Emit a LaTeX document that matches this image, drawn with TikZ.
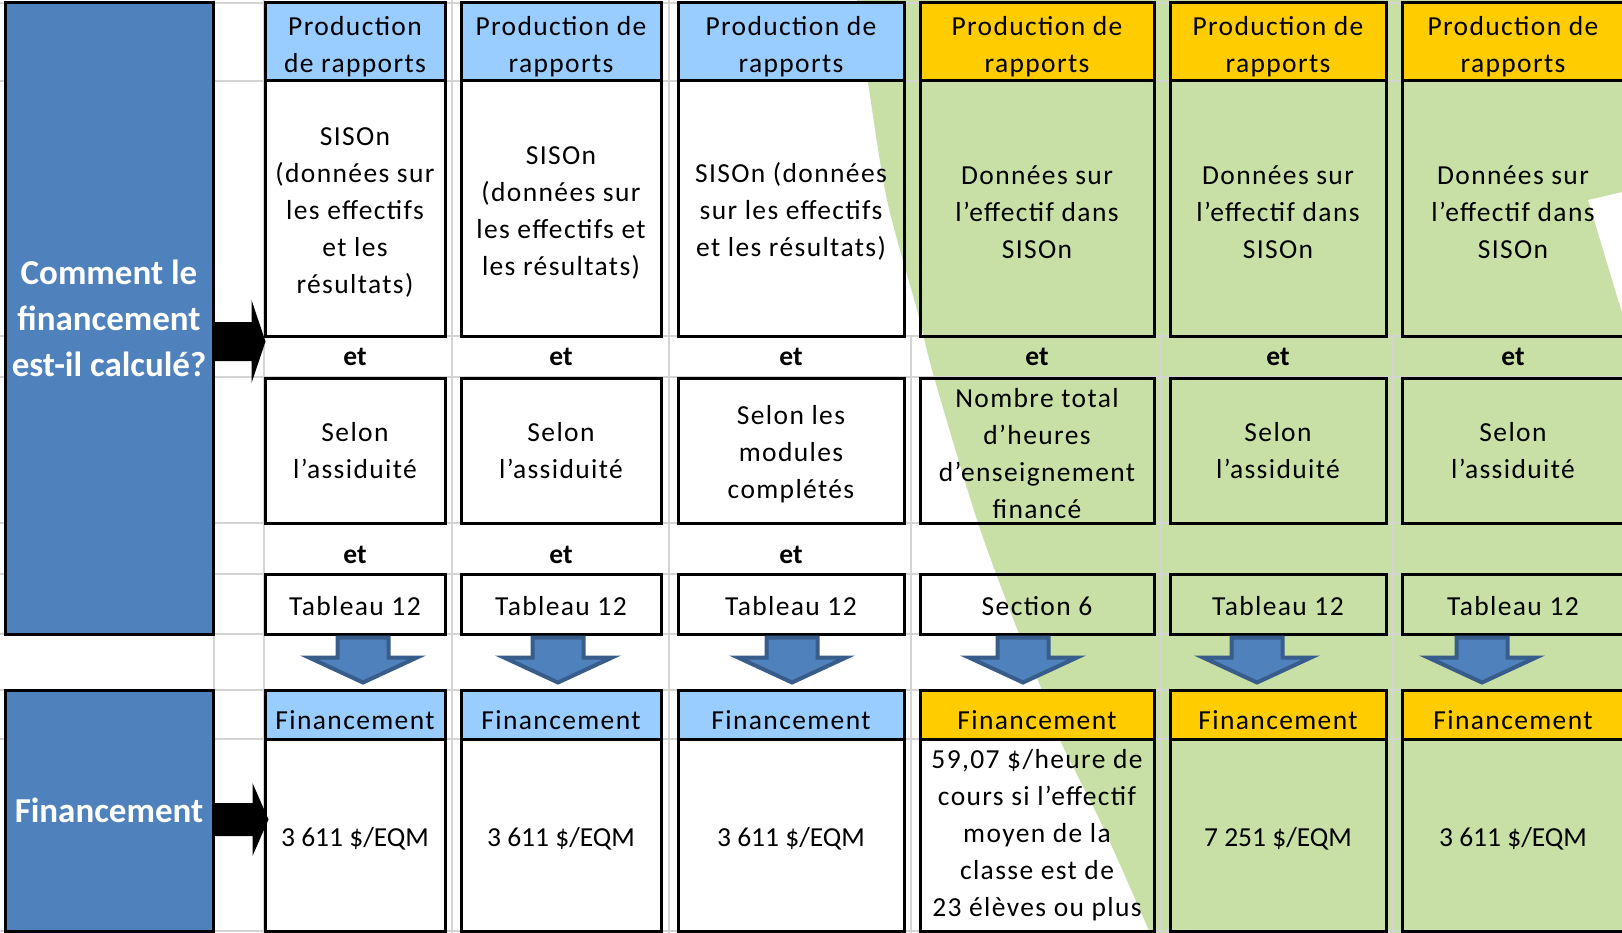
\documentclass[tikz,border=0pt]{standalone}
\usepackage{fontspec}
\setmainfont{Carlito}
\newfontfamily\spaced{Carlito}[LetterSpace=5]
\usetikzlibrary{calc}

\definecolor{sideblue}{RGB}{79,129,189}
\definecolor{arrowblue}{RGB}{56,93,138}
\definecolor{headblue}{RGB}{153,204,255}
\definecolor{headgold}{RGB}{255,204,0}
\definecolor{leafgreen}{RGB}{200,224,166}
\definecolor{gridgray}{RGB}{212,212,212}

\newcommand\up[1][26pt]{\rule{0pt}{#1}}

\tikzset{
  cell/.style={draw=black, line width=3pt, inner sep=0pt, align=center,
    font=\spaced\fontsize{27.5}{37}\selectfont},
  drop/.style={execute at begin node={\rule{0pt}{#1}}},
  plaintext/.style={font=\fontsize{27.5}{37}\selectfont},
  side/.style={cell, fill=sideblue, text=white, minimum width=208pt,
    font=\bfseries\fontsize{35}{46}\selectfont},
  rowhead/.style={cell, fill=#1, minimum height=78pt},
  rowbody/.style={cell, minimum height=255pt},
  rowmid/.style={cell, minimum height=145pt},
  rowtab/.style={cell, minimum height=60pt, drop=23.5pt},
  rowfin/.style={cell, fill=#1, minimum height=49pt, drop=31pt},
  rowval/.style={cell, minimum height=192pt, drop=26pt},
  conj/.style={inner sep=0pt, font=\bfseries\fontsize{27.5}{37}\selectfont},
  colA/.style={minimum width=180pt},
  colB/.style={minimum width=200pt},
  colC/.style={minimum width=226pt},
  colD/.style={minimum width=234pt},
  colE/.style={minimum width=216pt},
  colF/.style={minimum width=222pt},
  blockdown/.style={fill=sideblue, draw=arrowblue, line width=4pt, line join=miter},
  gridline/.style={draw=gridgray, line width=2pt}
}

\begin{document}
\begin{tikzpicture}[x=1pt, y=-1pt]
\useasboundingbox (0,0) rectangle (1622,933);

\fill[leafgreen] plot[smooth] coordinates {(857,0) (868,82) (887,200) (917,310)
  (934,377) (978,523) (1019,634) (1041,688) (1060,740) (1103,827) (1150,933)}
  -- (1622,933) -- (1622,313) -- (1588,200) -- (1622,192) -- (1622,0) -- cycle;

\foreach \gy in {3,81,336,377,523,574,634,690,739,931}
  \draw[gridline] (0,\gy) -- (1622,\gy);
\foreach \gx in {214,264,452,669}
  \draw[gridline] (\gx,0) -- (\gx,933);
\foreach \gx in {911,1161,1393}
  \draw[gridline] (\gx,336) -- (\gx,933);

\node[side, minimum height=631pt] (q1) at (109,318.5) {Comment le\\financement\\est-il calculé?};
\node[side, minimum height=241pt] (q2) at (109,810.5) {Financement};

\node[rowhead=headblue, colA] (h1) at (355,42) {\up[27.5pt]Production\\de rapports};
\node[rowhead=headblue, colB] (h2) at (561,42) {\up[27.5pt]Production de\\rapports};
\node[rowhead=headblue, colC] (h3) at (791,42) {\up[27.5pt]Production de\\rapports};
\node[rowhead=headgold, colD] (h4) at (1037,42) {\up[27.5pt]Production de\\rapports};
\node[rowhead=headgold, colE] (h5) at (1278,42) {\up[27.5pt]Production de\\rapports};
\node[rowhead=headgold, colF] (h6) at (1513,42) {\up[27.5pt]Production de\\rapports};

\node[rowbody, colA] (b1) at (355,208.5) {\up SISOn\\(données sur\\les effectifs\\et les\\résultats)};
\node[rowbody, colB] (b2) at (561,208.5) {\up SISOn\\(données sur\\les effectifs et\\les résultats)};
\node[rowbody, colC] (b3) at (791,208.5) {\up SISOn (données\\sur les effectifs\\et les résultats)};
\node[rowbody, colD] (b4) at (1037,208.5) {\up Données sur\\l’effectif dans\\SISOn};
\node[rowbody, colE] (b5) at (1278,208.5) {\up Données sur\\l’effectif dans\\SISOn};
\node[rowbody, colF] (b6) at (1513,208.5) {\up Données sur\\l’effectif dans\\SISOn};

\node[conj] (e1) at (355,357) {et};
\node[conj] (e2) at (561,357) {et};
\node[conj] (e3) at (791,357) {et};
\node[conj] (e4) at (1037,357) {et};
\node[conj] (e5) at (1278,357) {et};
\node[conj] (e6) at (1513,357) {et};

\node[rowmid, colA] (m1) at (355,450.5) {Selon\\l’assiduité};
\node[rowmid, colB] (m2) at (561,450.5) {Selon\\l’assiduité};
\node[rowmid, colC] (m3) at (791,450.5) {\up[25.5pt]Selon les\\modules\\complétés};
\node[rowmid, colD] (m4) at (1037,450.5) {\up[25.5pt]Nombre total\\d’heures\\d’enseignement\\financé};
\node[rowmid, colE] (m5) at (1278,450.5) {Selon\\l’assiduité};
\node[rowmid, colF] (m6) at (1513,450.5) {Selon\\l’assiduité};

\node[conj] (f1) at (355,555) {et};
\node[conj] (f2) at (561,555) {et};
\node[conj] (f3) at (791,555) {et};

\node[rowtab, colA] (t1) at (355,604) {Tableau 12};
\node[rowtab, colB] (t2) at (561,604) {Tableau 12};
\node[rowtab, colC] (t3) at (791,604) {Tableau 12};
\node[rowtab, colD] (t4) at (1037,604) {Section 6};
\node[rowtab, colE] (t5) at (1278,604) {Tableau 12};
\node[rowtab, colF] (t6) at (1513,604) {Tableau 12};

\node[rowfin=headblue, colA] (g1) at (355,714.5) {Financement};
\node[rowfin=headblue, colB] (g2) at (561,714.5) {Financement};
\node[rowfin=headblue, colC] (g3) at (791,714.5) {Financement};
\node[rowfin=headgold, colD] (g4) at (1037,714.5) {Financement};
\node[rowfin=headgold, colE] (g5) at (1278,714.5) {Financement};
\node[rowfin=headgold, colF] (g6) at (1513,714.5) {Financement};

\node[rowval, colA, plaintext] (v1) at (355,835) {3 611 \$/EQM};
\node[rowval, colB, plaintext] (v2) at (561,835) {3 611 \$/EQM};
\node[rowval, colC, plaintext] (v3) at (791,835) {3 611 \$/EQM};
\node[rowval, colD] (v4) at (1037,835) {59,07 \$/heure de\\cours si l’effectif\\moyen de la\\classe est de\\23 élèves ou plus};
\node[rowval, colE, plaintext] (v5) at (1278,835) {7 251 \$/EQM};
\node[rowval, colF, plaintext] (v6) at (1513,835) {3 611 \$/EQM};

\foreach \t/\dx in {t1/8,t2/-3,t3/1,t4/-14,t5/-21,t6/-31}
  \draw[blockdown] ($(\t.south)+(\dx-25.5,2)$) -- ++(0,20) -- ++(-28.5,0)
    -- ++(54,25) -- ++(54,-25) -- ++(-28.5,0) -- ++(0,-20) -- cycle;

\fill ($(q1.east)+(0,3.5)$) -- ++(37,0) -- ++(0,-22) -- ++(14,41.5)
  -- ++(-14,41.5) -- ++(0,-22) -- ++(-37,0) -- cycle;
\fill ($(q2.east)+(0,-7.5)$) -- ++(38,0) -- ++(0,-20) -- ++(16,36.5)
  -- ++(-16,36.5) -- ++(0,-20) -- ++(-38,0) -- cycle;
\end{tikzpicture}
\end{document}
